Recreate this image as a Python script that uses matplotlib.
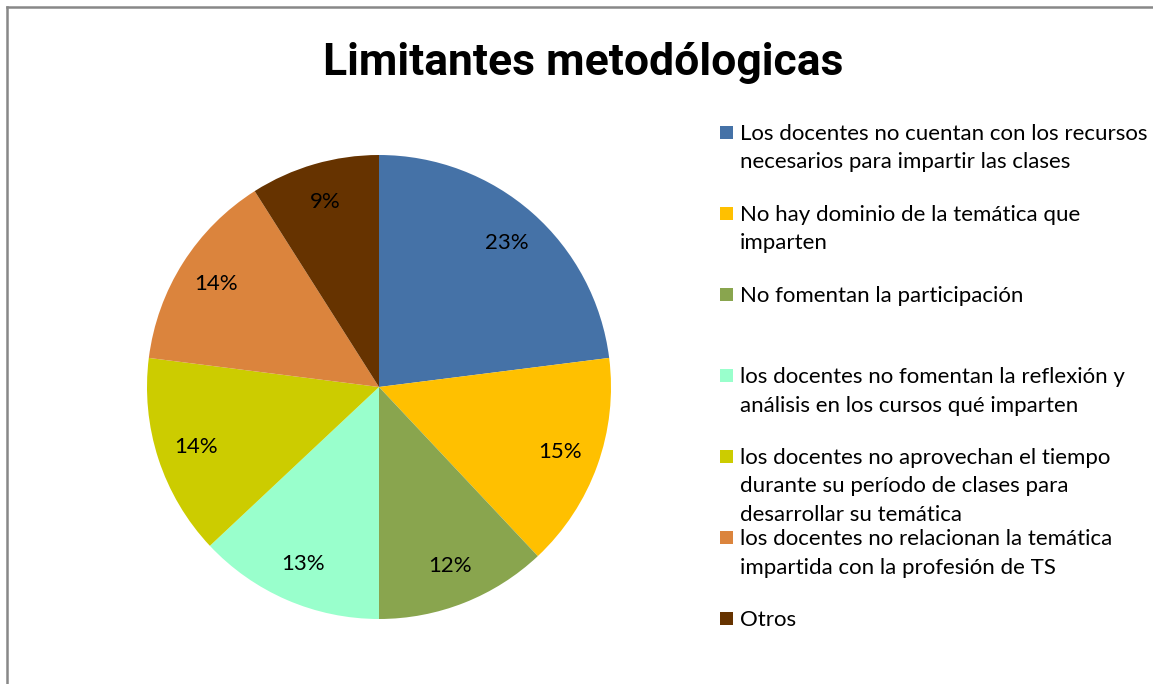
import matplotlib
matplotlib.use("Agg")
import matplotlib.pyplot as plt
from matplotlib.patches import Rectangle
from matplotlib.lines import Line2D

W, H = 1153, 684

title = "Limitantes metodólogicas"
labels = [
    "Los docentes no cuentan con los recursos\nnecesarios para impartir las clases",
    "No hay dominio de la temática que\nimparten",
    "No fomentan la participación",
    "los docentes no fomentan la reflexión y\nanálisis en los cursos qué imparten",
    "los docentes no aprovechan el tiempo\ndurante su período de clases para\ndesarrollar su temática",
    "los docentes no relacionan la temática\nimpartida con la profesión de TS",
    "Otros",
]
values = [23, 15, 12, 13, 14, 14, 9]
colors = ["#4572A7", "#FFC000", "#89A54E", "#99FFCC", "#CCCC00", "#DB843D", "#663300"]

title_font = ["Roboto", "DejaVu Sans"]
body_font = ["Lato", "DejaVu Sans"]

fig = plt.figure(figsize=(W / 100, H / 100), dpi=100)
fig.patch.set_facecolor("white")

def fx(x):
    return x / W

def fy(y):
    return 1 - y / H

# frame (left and top edges visible)
fig.add_artist(Line2D([fx(7), fx(7)], [fy(684), fy(7)], color="#888888", lw=1.8,
                      transform=fig.transFigure))
fig.add_artist(Line2D([fx(7), fx(1153)], [fy(7), fy(7)], color="#888888", lw=1.8,
                      transform=fig.transFigure))

# pie
cx, cy, r = 379, 387, 232
ax = fig.add_axes([fx(cx - r), fy(cy + r), 2 * r / W, 2 * r / H])
ax.pie(values, colors=colors, startangle=90, counterclock=False,
       autopct=lambda p: f"{p:.0f}%", pctdistance=0.83,
       wedgeprops=dict(linewidth=0),
       textprops=dict(fontsize=16, family=body_font, color="black"))
ax.set_xlim(-1, 1)
ax.set_ylim(-1, 1)
ax.set_aspect("equal")
ax.axis("off")

# title
fig.text(fx(583), fy(75), title, ha="center", va="baseline", fontsize=32,
         fontweight="bold", family=title_font)

# legend (manual, marker aligned with first line)
y0, step, lstep = 132, 81, 28.5
for i, (lab, col) in enumerate(zip(labels, colors)):
    yc = y0 + i * step
    fig.add_artist(Rectangle((fx(720), fy(yc + 6.5)), 13 / W, 13 / H,
                             facecolor=col, edgecolor="none",
                             transform=fig.transFigure))
    for k, line in enumerate(lab.split("\n")):
        fig.text(fx(740), fy(yc + 8 + k * lstep), line, ha="left", va="baseline",
                 fontsize=16, family=body_font)

fig.savefig("out.png", dpi=100, facecolor="white")
